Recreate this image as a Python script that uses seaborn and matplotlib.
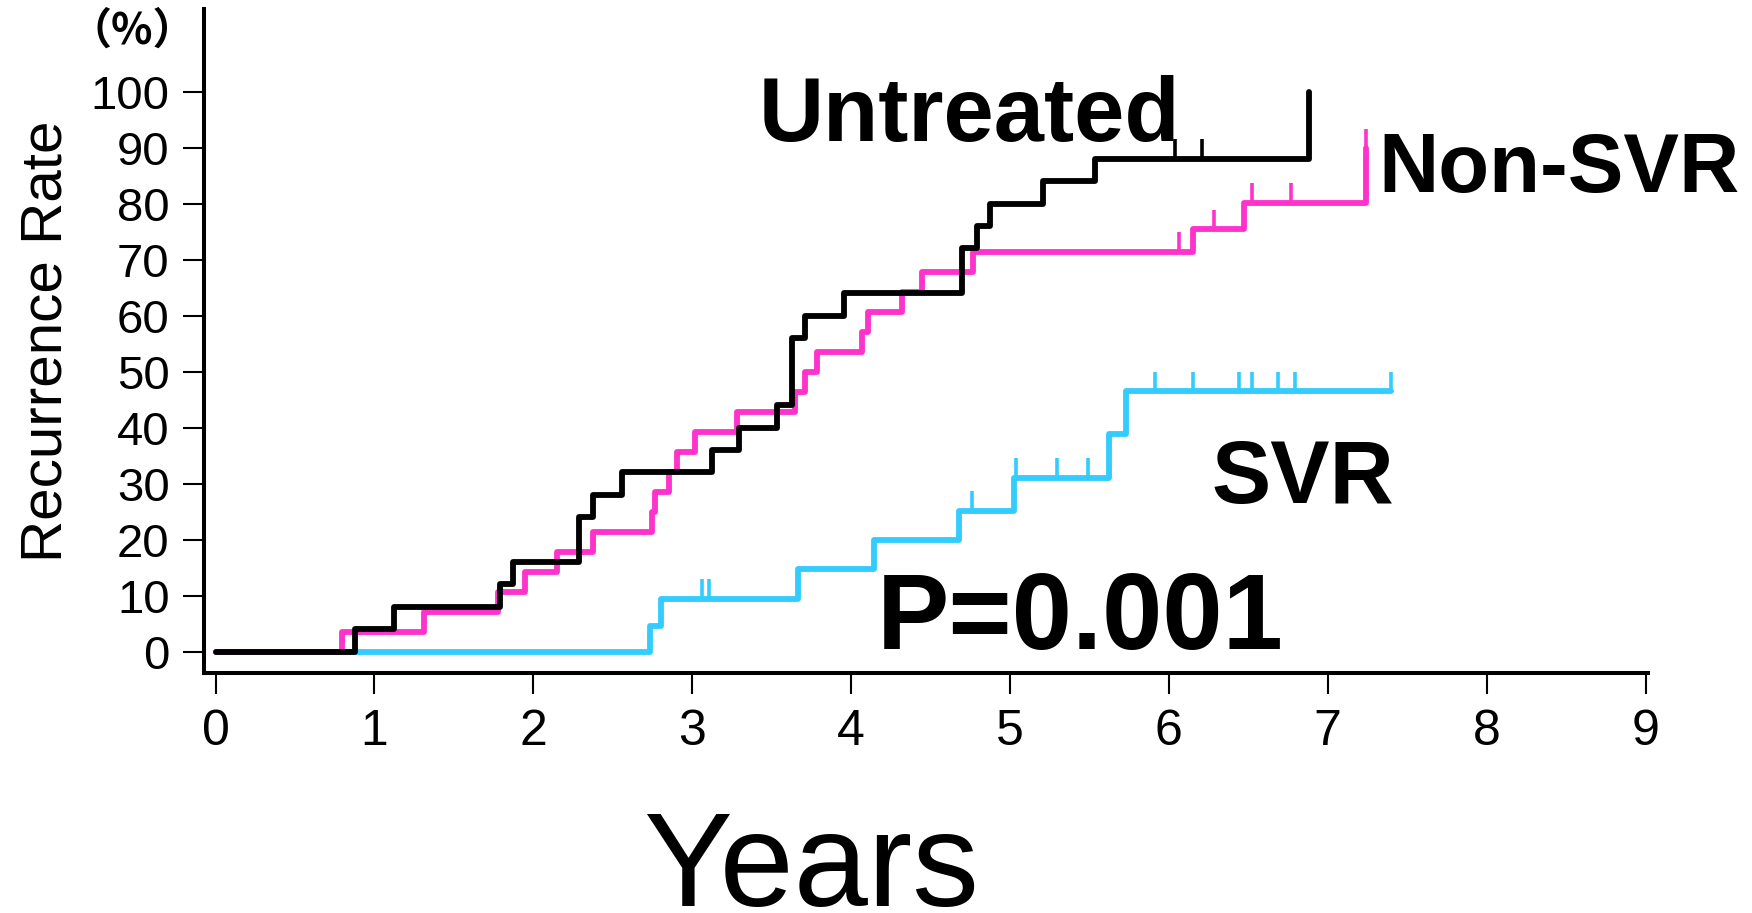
import numpy as np
import pandas as pd
import seaborn as sns
import matplotlib.pyplot as plt

# step curves (years, cumulative recurrence %)
untreated_t = [0, 0.877, 1.12, 1.79, 1.875, 2.285, 2.375, 2.555, 3.125, 3.294,
               3.531, 3.626, 3.71, 3.957, 4.70, 4.794, 4.874, 5.205, 5.534, 6.884]
untreated_v = [0, 4, 8, 12, 16, 24, 28, 32, 36, 40,
               44, 56, 60, 64, 72, 76, 80, 84, 88, 100]
untreated_cens = [6.04, 6.206]

nonsvr_t = [0, 0.793, 1.31, 1.78, 1.947, 2.15, 2.377, 2.745, 2.766, 2.854,
            2.902, 3.017, 3.28, 3.647, 3.71, 3.783, 4.066, 4.108, 4.318, 4.444,
            4.77, 6.15, 6.474, 7.24]
nonsvr_v = [0, 3.57, 7.14, 10.71, 14.29, 17.86, 21.43, 25.0, 28.57, 32.14,
            35.71, 39.29, 42.86, 46.43, 50.0, 53.57, 57.14, 60.71, 64.29, 67.86,
            71.43, 75.4, 80.2, 89.9]
nonsvr_cens = [6.065, 6.284, 6.52, 6.766, 7.24]

svr_t = [0, 2.734, 2.804, 3.665, 4.147, 4.677, 5.027, 5.62, 5.727, 7.40]
svr_v = [0, 4.5, 9.4, 14.65, 20.0, 25.1, 31.0, 38.8, 46.5, 46.5]
svr_cens = [3.061, 3.103, 4.763, 5.036, 5.293, 5.492, 5.913, 6.15, 6.443,
            6.523, 6.684, 6.793, 7.40]

x_ticks = list(range(0, 10))
y_ticks = list(range(0, 101, 10))

sns.set_theme(style='ticks')
plt.rcParams['font.family'] = ['Liberation Sans', 'Noto Sans CJK JP', 'DejaVu Sans']
plt.rcParams['text.color'] = 'black'
plt.rcParams['axes.labelcolor'] = 'black'
plt.rcParams['xtick.color'] = 'black'
plt.rcParams['ytick.color'] = 'black'

fig = plt.figure(figsize=(17.52, 9.13), dpi=100)
ax = fig.add_axes([0.1167, 0.2625, 0.8239, 0.7275])

groups = [
    ('SVR', svr_t, svr_v, svr_cens, '#33CCFF'),
    ('Non-SVR', nonsvr_t, nonsvr_v, nonsvr_cens, '#FF33CC'),
    ('Untreated', untreated_t, untreated_v, untreated_cens, '#000000'),
]

for i, (name, t, v, cens, col) in enumerate(groups):
    df = pd.DataFrame({'Years': t, 'Rate': v})
    sns.lineplot(data=df, x='Years', y='Rate', drawstyle='steps-post',
                 estimator=None, sort=False, color=col, linewidth=4.2,
                 ax=ax, zorder=2 + i)
    # censor marks
    t_arr = np.array(t)
    v_arr = np.array(v)
    idx = np.searchsorted(t_arr, cens, side='right') - 1
    ax.vlines(cens, v_arr[idx], v_arr[idx] + 3.5, color=col, linewidth=2.6,
              zorder=2 + i)

ax.set_xlim(-0.07, 9.015)
ax.set_ylim(-3.9, 114.75)
ax.set_xticks(x_ticks)
ax.set_yticks(y_ticks)
ax.tick_params(axis='x', labelsize=36, length=15, width=1.5, pad=11)
ax.tick_params(axis='y', labelsize=34, length=15, width=1.5, pad=10)
sns.despine(ax=ax)
for s in ['left', 'bottom']:
    ax.spines[s].set_linewidth(2.9)
    ax.spines[s].set_color('black')

ax.set_ylabel('Recurrence Rate', fontsize=42)
ax.yaxis.set_label_coords(-0.0908, 0.5)
ax.set_xlabel('Years', fontsize=96)
ax.xaxis.set_label_coords(0.4204, -0.3498)
ax.xaxis.label.set_va('baseline')

# percent unit above the y axis
fig.text(0.0757, 0.966, '（%）', fontsize=31, ha='center', va='center',
         fontweight='bold', family=['Noto Sans CJK JP', 'DejaVu Sans'])

ax.text(3.42, 91.2, 'Untreated', fontsize=65, fontweight='bold', va='baseline')
ax.text(7.32, 82.0, 'Non-SVR', fontsize=60, fontweight='bold', va='baseline')
ax.text(6.27, 26.45, 'SVR', fontsize=64, fontweight='bold', va='baseline')
ax.text(4.16, 0.4, 'P=0.001', fontsize=78, fontweight='bold', va='baseline')

fig.savefig('out.png', dpi=100)
